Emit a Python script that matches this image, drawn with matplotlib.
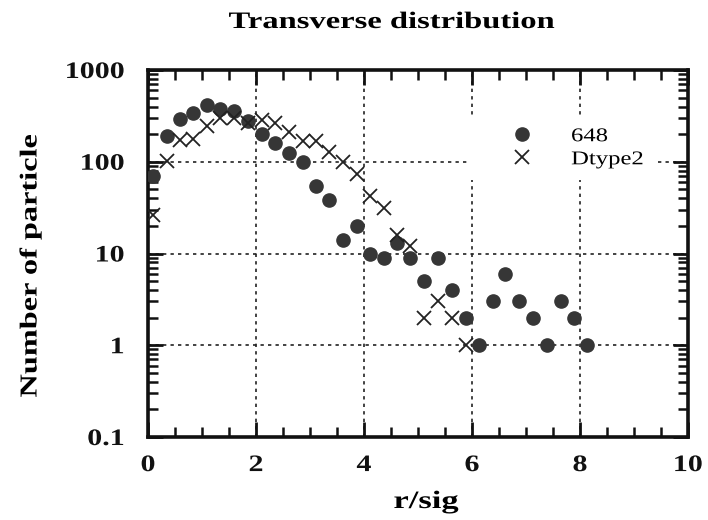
import matplotlib
matplotlib.use("Agg")
import matplotlib.pyplot as plt
from matplotlib.patches import Rectangle
from matplotlib.patheffects import AbstractPathEffect
from matplotlib.transforms import Affine2D
from matplotlib.ticker import FixedLocator, MultipleLocator, LogLocator, NullFormatter

# binned radial positions (r/sig) and particle counts
r_648 = [0.09, 0.35, 0.59, 0.83, 1.09, 1.33, 1.59, 1.85, 2.11, 2.35, 2.61,
         2.87, 3.11, 3.35, 3.61, 3.87, 4.11, 4.37, 4.61, 4.85, 5.11, 5.37,
         5.63, 5.89, 6.13, 6.39, 6.61, 6.87, 7.13, 7.39, 7.65, 7.89, 8.13]
n_648 = [70, 190, 290, 340, 415, 380, 355, 280, 200, 160, 125,
         100, 55, 38, 14, 20, 10, 9, 13, 9, 5, 9,
         4, 2, 1, 3, 6, 3, 2, 1, 3, 2, 1]

r_dtype2 = [0.09, 0.35, 0.59, 0.83, 1.09, 1.33, 1.59, 1.85, 2.11, 2.35, 2.61,
            2.87, 3.11, 3.35, 3.61, 3.87, 4.11, 4.37, 4.61, 4.85, 5.11, 5.37,
            5.63, 5.89]
n_dtype2 = [26, 103, 173, 178, 245, 300, 300, 265, 288, 265, 213,
            169, 169, 128, 100, 74, 42, 31, 16, 12, 2, 3,
            2, 1]

yticks = [0.1, 1, 10, 100, 1000]
ytick_labels = ["0.1", "1", "10", "100", "1000"]
xticks = [0, 2, 4, 6, 8, 10]

serif = ["Liberation Serif", "DejaVu Serif"]


class Widen(AbstractPathEffect):
    """Draw text wider along its reading direction (old typesetter look)."""

    def __init__(self, factor, anchor="center", along="x"):
        super().__init__()
        self.factor = factor
        self.anchor = anchor
        self.along = along

    def draw_path(self, renderer, gc, tpath, affine, rgbFace=None):
        box = tpath.get_extents(affine)
        if self.along == "x":
            if self.anchor == "left":
                ref = box.x0
            elif self.anchor == "right":
                ref = box.x1
            else:
                ref = (box.x0 + box.x1) / 2
            widen = Affine2D().translate(-ref, 0).scale(self.factor, 1).translate(ref, 0)
        else:
            ref = (box.y0 + box.y1) / 2
            widen = Affine2D().translate(0, -ref).scale(1, self.factor).translate(0, ref)
        renderer.draw_path(gc, tpath, affine + widen, rgbFace)


fig = plt.figure(figsize=(7.08, 5.2), dpi=100)
ax = fig.add_axes([0.2090, 0.1596, 0.7627, 0.7058])

ax.plot(r_648, n_648, linestyle="none", marker="o", markersize=9.5,
        color="#363636", label="648", zorder=3)
ax.plot(r_dtype2, n_dtype2, linestyle="none", marker="x", markersize=10,
        markeredgewidth=1.3, color="#222222", label="Dtype2", zorder=3)

ax.set_yscale("log")
ax.set_xlim(0, 10)
ax.set_ylim(0.1, 1000)

ax.xaxis.set_major_locator(FixedLocator(xticks))
ax.xaxis.set_minor_locator(MultipleLocator(0.5))
ax.yaxis.set_major_locator(FixedLocator(yticks))
ax.yaxis.set_minor_locator(LogLocator(base=10, subs=range(2, 10), numticks=20))
ax.yaxis.set_minor_formatter(NullFormatter())
ax.set_yticklabels(ytick_labels)
ax.set_xticklabels([str(t) for t in xticks])

ax.tick_params(which="both", direction="in", top=True, right=True,
               colors="#111111")
ax.tick_params(which="major", length=11, width=2)
ax.tick_params(which="minor", length=7, width=1.8)
ax.tick_params(axis="y", which="major", pad=17)
ax.tick_params(axis="x", which="major", pad=13)
for lab in ax.get_xticklabels():
    lab.set_fontfamily(serif)
    lab.set_fontweight("bold")
    lab.set_fontsize(17)
    lab.set_path_effects([Widen(1.27)])
for lab in ax.get_yticklabels():
    lab.set_fontfamily(serif)
    lab.set_fontweight("bold")
    lab.set_fontsize(17)
    lab.set_path_effects([Widen(1.27, anchor="right")])

for side in ax.spines.values():
    side.set_linewidth(2.6)
    side.set_color("#111111")

ax.grid(True, which="major", linestyle=(0, (2, 2.5)), color="#222222",
        linewidth=1.2)
ax.set_axisbelow(True)

# white patch behind the legend hides the grid there
ax.add_patch(Rectangle((0.593, 0.700), 0.346, 0.169, transform=ax.transAxes,
                       facecolor="white", edgecolor="none", zorder=1))

leg = ax.legend(loc="upper left", bbox_to_anchor=(0.674, 0.843),
                frameon=False, prop={"family": serif, "size": 14},
                handlelength=1.0, handletextpad=2.05, labelspacing=0.28,
                borderpad=0, borderaxespad=0)
for t in leg.get_texts():
    t.set_path_effects([Widen(1.27, anchor="left")])

title = fig.text(392 / 708, 1 - 28 / 520, "Transverse distribution",
                 ha="center", va="baseline", fontfamily=serif,
                 fontweight="bold", fontsize=17)
title.set_path_effects([Widen(1.38)])

xlab = fig.text(426 / 708, 1 - 508 / 520, "r/sig", ha="center", va="baseline",
                fontfamily=serif, fontweight="bold", fontsize=18)
xlab.set_path_effects([Widen(1.38)])

ylab = fig.text(31 / 708, 1 - 266 / 520, "Number of particle", rotation=90,
                ha="center", va="center", fontfamily=serif, fontweight="bold",
                fontsize=17.5)
ylab.set_path_effects([Widen(1.33, along="y")])

fig.savefig("out.png", dpi=100)
